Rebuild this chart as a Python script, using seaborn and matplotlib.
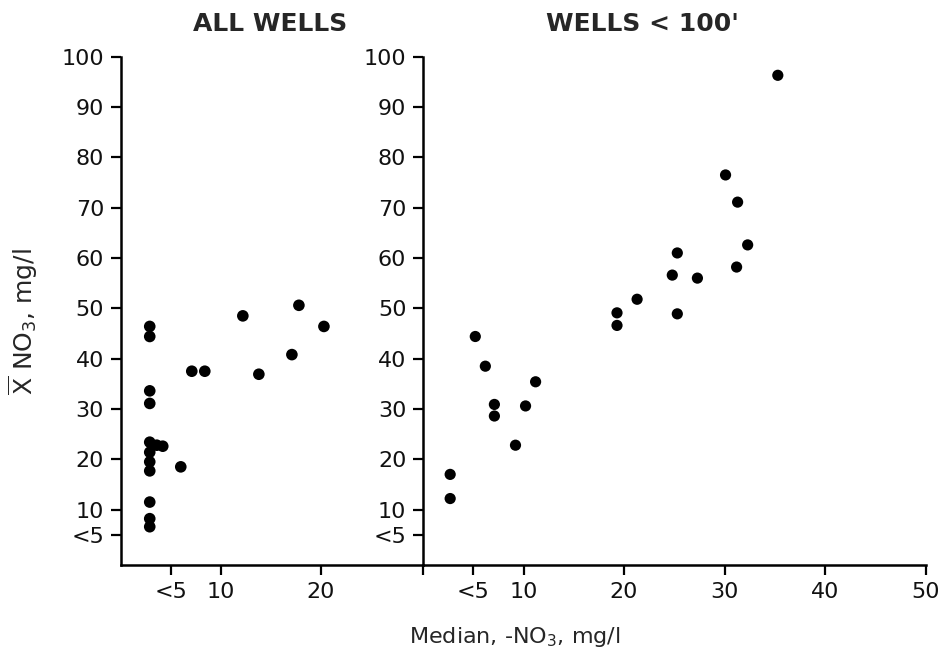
import matplotlib
matplotlib.use('Agg')
import matplotlib.pyplot as plt
import seaborn as sns
import pandas as pd

# all wells: median vs mean nitrate (mg/l)
all_median = [2.9, 2.9, 2.9, 2.9, 2.9, 3.6, 4.2, 2.9, 2.9, 2.9, 6.0, 2.9, 2.9, 2.9,
              7.1, 8.4, 12.2, 13.8, 17.1, 17.8, 20.3]
all_mean = [46.4, 44.4, 33.6, 31.1, 23.4, 22.8, 22.6, 21.4, 19.5, 17.7, 18.5, 11.5, 8.2, 6.6,
            37.5, 37.5, 48.5, 36.9, 40.8, 50.6, 46.4]

# wells < 100 ft
shallow_median = [2.7, 2.7, 5.2, 6.2, 7.1, 7.1, 9.2, 10.2, 11.2, 19.3, 19.3, 21.3, 24.8, 25.3,
                  25.3, 27.3, 30.1, 31.2, 31.3, 32.3, 35.3]
shallow_mean = [12.2, 17.0, 44.4, 38.5, 30.9, 28.6, 22.8, 30.6, 35.4, 49.1, 46.6, 51.8, 56.6, 61.0,
                48.9, 56.0, 76.5, 58.2, 71.1, 62.6, 96.3]

y_ticks = [5, 10, 20, 30, 40, 50, 60, 70, 80, 90, 100]
y_labels = ['<5', '10', '20', '30', '40', '50', '60', '70', '80', '90', '100']
left_x_ticks = [5, 10, 20]
left_x_labels = ['<5', '10', '20']
right_x_ticks = [0, 5, 10, 20, 30, 40, 50]
right_x_labels = ['', '<5', '10', '20', '30', '40', '50']

df_all = pd.DataFrame({'median': all_median, 'mean': all_mean})
df_shallow = pd.DataFrame({'median': shallow_median, 'mean': shallow_mean})

sns.set_style('ticks')
plt.rcParams['font.family'] = ['DejaVu Sans']
plt.rcParams['mathtext.fontset'] = 'dejavusans'

fig = plt.figure(figsize=(9.43, 6.53), dpi=100)
ax1 = fig.add_axes([0.128, 0.1348, 0.3206, 0.7784])
ax2 = fig.add_axes([0.4486, 0.1348, 0.5329, 0.7784])

sns.scatterplot(data=df_all, x='median', y='mean', ax=ax1, color='black', s=70, edgecolor='none')
sns.scatterplot(data=df_shallow, x='median', y='mean', ax=ax2, color='black', s=65, edgecolor='none')

ax1.set_xlim(0, 30.2)
ax2.set_xlim(0, 50)
for ax in (ax1, ax2):
    ax.set_ylim(-1, 100)
    ax.set_yticks(y_ticks)
    ax.set_yticklabels(y_labels)
    ax.set_xlabel('')
    ax.set_ylabel('')
    sns.despine(ax=ax)
    for sp in ax.spines.values():
        sp.set_linewidth(1.8)
        sp.set_color('black')
    ax.tick_params(direction='out', length=7, width=1.6, color='black',
                   labelsize=16, labelcolor='#111111', pad=5)
    ax.patch.set_alpha(0)

ax1.set_xticks(left_x_ticks)
ax1.set_xticklabels(left_x_labels)
ax2.set_xticks(right_x_ticks)
ax2.set_xticklabels(right_x_labels)

fig.text(270 / 943, 1 - 24 / 653, 'ALL WELLS', ha='center', va='center',
         fontsize=18, fontweight='bold')
fig.text(642 / 943, 1 - 24 / 653, "WELLS < 100'", ha='center', va='center',
         fontsize=18, fontweight='bold')
fig.text(23 / 943, 1 - 322 / 653, r'$\overline{\mathrm{X}}$ NO$_3$, mg/l', rotation=90,
         ha='center', va='center', fontsize=18)
fig.text(515 / 943, 1 - 637 / 653, 'Median, -NO$_3$, mg/l', ha='center', va='center',
         fontsize=16)

fig.savefig('out.png', dpi=100)
